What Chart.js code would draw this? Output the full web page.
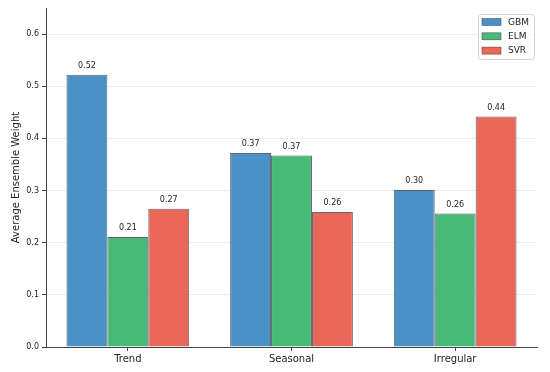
<!DOCTYPE html>
<html>
<head>
<meta charset="utf-8">
<script src="https://cdn.jsdelivr.net/npm/chart.js@4.4.1/dist/chart.umd.min.js"></script>
<style>
  html, body { margin: 0; padding: 0; background: #fff; }
  #wrap { width: 550px; height: 372px; }
</style>
</head>
<body>
<div id="wrap"><canvas id="weights-chart" width="550" height="372"></canvas></div>
<script>
// categories and series
const components = ['Trend', 'Seasonal', 'Irregular'];
const gbmWeights = [0.522, 0.372, 0.301];
const elmWeights = [0.211, 0.367, 0.256];
const svrWeights = [0.265, 0.259, 0.442];
const yTicks = [0.0, 0.1, 0.2, 0.3, 0.4, 0.5, 0.6];

const FONT = 'DejaVu Sans';

// value labels above each bar
const barLabels = {
    id: 'barLabels',
    afterDatasetsDraw(chart) {
        const ctx = chart.ctx;
        ctx.save();
        ctx.font = '8px "' + FONT + '"';
        ctx.fillStyle = '#222';
        ctx.textAlign = 'center';
        ctx.textBaseline = 'bottom';
        chart.data.datasets.forEach((ds, i) => {
            chart.getDatasetMeta(i).data.forEach((bar, j) => {
                ctx.fillText(ds.data[j].toFixed(2), bar.x, bar.y - 5);
            });
        });
        ctx.restore();
    }
};

// legend drawn inside the plot, upper right
const innerLegend = {
    id: 'innerLegend',
    afterDraw(chart) {
        const ctx = chart.ctx;
        const area = chart.chartArea;
        const w = 56, h = 45;
        const x = area.right - 3 - w, y = area.top + 6;
        ctx.save();
        ctx.fillStyle = 'rgba(255,255,255,0.8)';
        ctx.strokeStyle = '#d4d4d4';
        ctx.lineWidth = 1;
        ctx.beginPath();
        ctx.roundRect(x + 0.5, y + 0.5, w, h, 3);
        ctx.fill();
        ctx.stroke();
        ctx.font = '9px "' + FONT + '"';
        ctx.textBaseline = 'middle';
        ctx.textAlign = 'left';
        chart.data.datasets.forEach((ds, i) => {
            const ry = y + 8 + i * 14.3;
            ctx.fillStyle = ds.backgroundColor;
            ctx.fillRect(x + 4, ry - 3.5, 19, 7);
            ctx.strokeStyle = ds.borderColor;
            ctx.lineWidth = 0.6;
            ctx.strokeRect(x + 4, ry - 3.5, 19, 7);
            ctx.fillStyle = '#222';
            ctx.fillText(ds.label, x + 30, ry + 0.5);
        });
        ctx.restore();
    }
};

const ctx = document.getElementById('weights-chart');
new Chart(ctx, {
    type: 'bar',
    data: {
        labels: components,
        datasets: [{
            label: 'GBM',
            data: gbmWeights,
            backgroundColor: 'rgb(74, 146, 197)',
            borderColor: 'rgba(40, 50, 60, 0.75)',
            borderWidth: 1
        }, {
            label: 'ELM',
            data: elmWeights,
            backgroundColor: 'rgb(71, 186, 120)',
            borderColor: 'rgba(40, 50, 60, 0.75)',
            borderWidth: 1
        }, {
            label: 'SVR',
            data: svrWeights,
            backgroundColor: 'rgb(234, 103, 89)',
            borderColor: 'rgba(40, 50, 60, 0.75)',
            borderWidth: 1
        }]
    },
    options: {
        responsive: false,
        animation: false,
        devicePixelRatio: 1,
        layout: { padding: { top: 8, right: 13, left: 0, bottom: 0 } },
        datasets: { bar: { categoryPercentage: 0.75, barPercentage: 1.0 } },
        plugins: {
            legend: { display: false },
            tooltip: { enabled: false }
        },
        scales: {
            x: {
                offset: true,
                grid: {
                    offset: false,
                    drawOnChartArea: false,
                    color: '#444',
                    tickColor: '#444',
                    tickLength: 4
                },
                border: { color: '#444', width: 1 },
                ticks: {
                    color: '#222',
                    font: { family: FONT, size: 10 },
                    padding: 2
                },
                afterFit(scale) { scale.height = 25; }
            },
            y: {
                min: 0,
                max: 0.65,
                afterBuildTicks(scale) {
                    scale.ticks = yTicks.map(v => ({ value: v }));
                },
                grid: {
                    color: 'rgba(0,0,0,0.07)',
                    tickColor: '#444',
                    tickLength: 4
                },
                border: { color: '#444', width: 1 },
                ticks: {
                    color: '#222',
                    font: { family: FONT, size: 8 },
                    padding: 3,
                    callback: v => v.toFixed(1)
                },
                title: {
                    display: true,
                    text: 'Average Ensemble Weight',
                    color: '#222',
                    font: { family: FONT, size: 10 },
                    padding: { top: 10, bottom: 4 }
                },
                afterFit(scale) { scale.width = 46; }
            }
        }
    },
    plugins: [barLabels, innerLegend]
});
</script>
</body>
</html>
